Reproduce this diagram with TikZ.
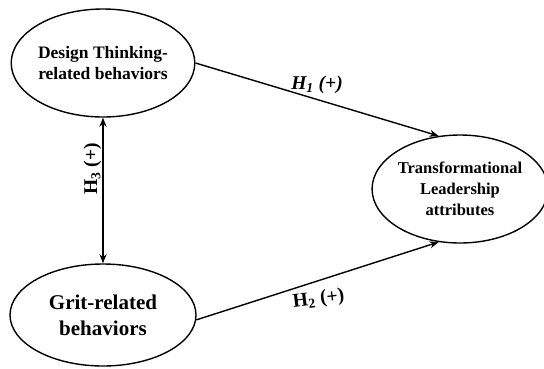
\documentclass[tikz,border=0pt]{standalone}
\usepackage{fontspec}
\setmainfont{Liberation Serif}
\usetikzlibrary{shapes.geometric,arrows.meta}

\tikzset{
  construct/.style={draw, ellipse, line width=1.4pt, align=center, inner sep=0pt},
  link/.style={line width=1.4pt, -{Stealth[length=9pt,width=7pt]}},
  hyp/.style={font=\bfseries\fontsize{19.5}{22}\selectfont, inner sep=1pt}
}

\begin{document}
\begin{tikzpicture}[x=1pt, y=-1pt]
    \useasboundingbox (0,0) rectangle (544,368);

    % Constructs
    \node[construct, minimum width=180pt, minimum height=108pt,
          font=\bfseries\fontsize{17.5}{21}\selectfont] (dt) at (103,63) {Design Thinking-\\related behaviors};
    \node[construct, minimum width=186pt, minimum height=102pt,
          font=\bfseries\fontsize{21}{26}\selectfont] (grit) at (103,315) {Grit-related\\behaviors};
    \node[construct, minimum width=166pt, minimum height=108pt,
          font=\bfseries\fontsize{16.5}{21}\selectfont] (tl) at (460,189) {Transformational\\Leadership\\attributes};

    % Hypotheses
    \draw[link] (dt.east) -- (tl.112) node[hyp, midway, above=4pt] {\textit{H\textsubscript{1} (+)}};
    \draw[link] (grit.-3) -- (tl.248) node[hyp, midway, below=8pt, rotate=7] {H\textsubscript{2} (+)};
    \draw[link, {Stealth[length=9pt,width=7pt]}-{Stealth[length=9pt,width=7pt]}] (dt.south) -- (grit.north)
        node[hyp, pos=0.4, above=7pt, rotate=90] {H\textsubscript{3} (+)};
\end{tikzpicture}
\end{document}
